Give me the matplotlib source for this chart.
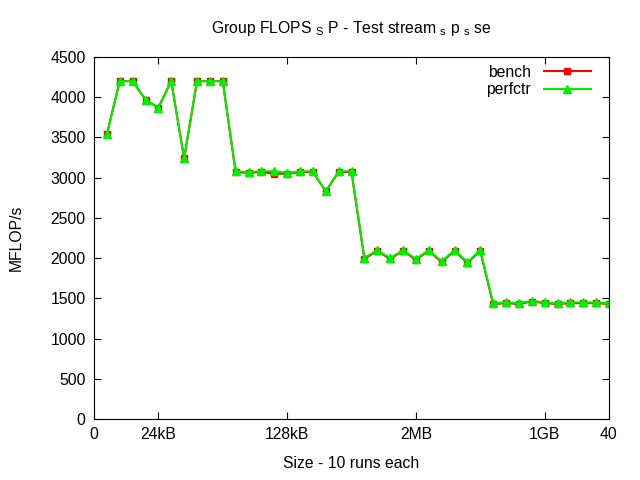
import numpy as np
import matplotlib
matplotlib.use('Agg')
import matplotlib.pyplot as plt

plt.rcParams['font.family'] = ['Liberation Sans', 'DejaVu Sans']
plt.rcParams['mathtext.fontset'] = 'custom'
plt.rcParams['mathtext.rm'] = 'Liberation Sans'
plt.rcParams['mathtext.it'] = 'Liberation Sans'

x = np.arange(1, 41)
bench = [3540, 4200, 4200, 3970, 3870, 4200, 3240, 4200, 4200, 4200,
         3070, 3060, 3070, 3050, 3050, 3070, 3070, 2830, 3070, 3070,
         1990, 2090, 1990, 2090, 1980, 2090, 1950, 2090, 1940, 2090,
         1430, 1440, 1430, 1460, 1440, 1430, 1440, 1440, 1440, 1430]
perfctr = [3540, 4200, 4200, 3970, 3870, 4200, 3240, 4200, 4200, 4200,
           3080, 3070, 3080, 3080, 3060, 3080, 3080, 2830, 3080, 3080,
           2000, 2100, 2000, 2100, 1990, 2100, 1960, 2100, 1950, 2100,
           1440, 1450, 1440, 1470, 1450, 1440, 1450, 1450, 1450, 1440]
xticks = [0, 5, 15, 25, 35, 40]
xlabels = ['0', '24kB', '128kB', '2MB', '1GB', '40']

fs = 11.3

fig = plt.figure(figsize=(6.4, 4.8), dpi=100)
ax = fig.add_axes([94/640, 61/480, 515/640, 362/480])

ax.plot(x, bench, color='#ff0000', lw=1.5, marker='s', ms=5, label='bench')
ax.plot(x, perfctr, color='#00ee00', lw=1.5, marker='^', ms=6, label='perfctr')

ax.set_xlim(0, 40)
ax.set_ylim(0, 4500)
ax.set_xticks(xticks)
ax.set_xticklabels(xlabels)
ax.set_yticks(np.arange(0, 4501, 500))
ax.tick_params(direction='in', top=True, right=True, labelsize=fs, length=5, pad=6)

ax.set_title(r'Group FLOPS $_\mathrm{S}$ P - Test stream $_\mathrm{s}$ p $_\mathrm{s}$ se',
             fontsize=fs, pad=17)
ax.set_xlabel('Size - 10 runs each', fontsize=fs, labelpad=10)
ax.set_ylabel('MFLOP/s', fontsize=fs, labelpad=19)

ax.legend(loc='upper right', frameon=False, markerfirst=False, fontsize=fs,
          handlelength=3, borderaxespad=0.2, borderpad=0.3, labelspacing=0.15,
          bbox_to_anchor=(0.98, 1.0))

fig.savefig('out.png', dpi=100)
